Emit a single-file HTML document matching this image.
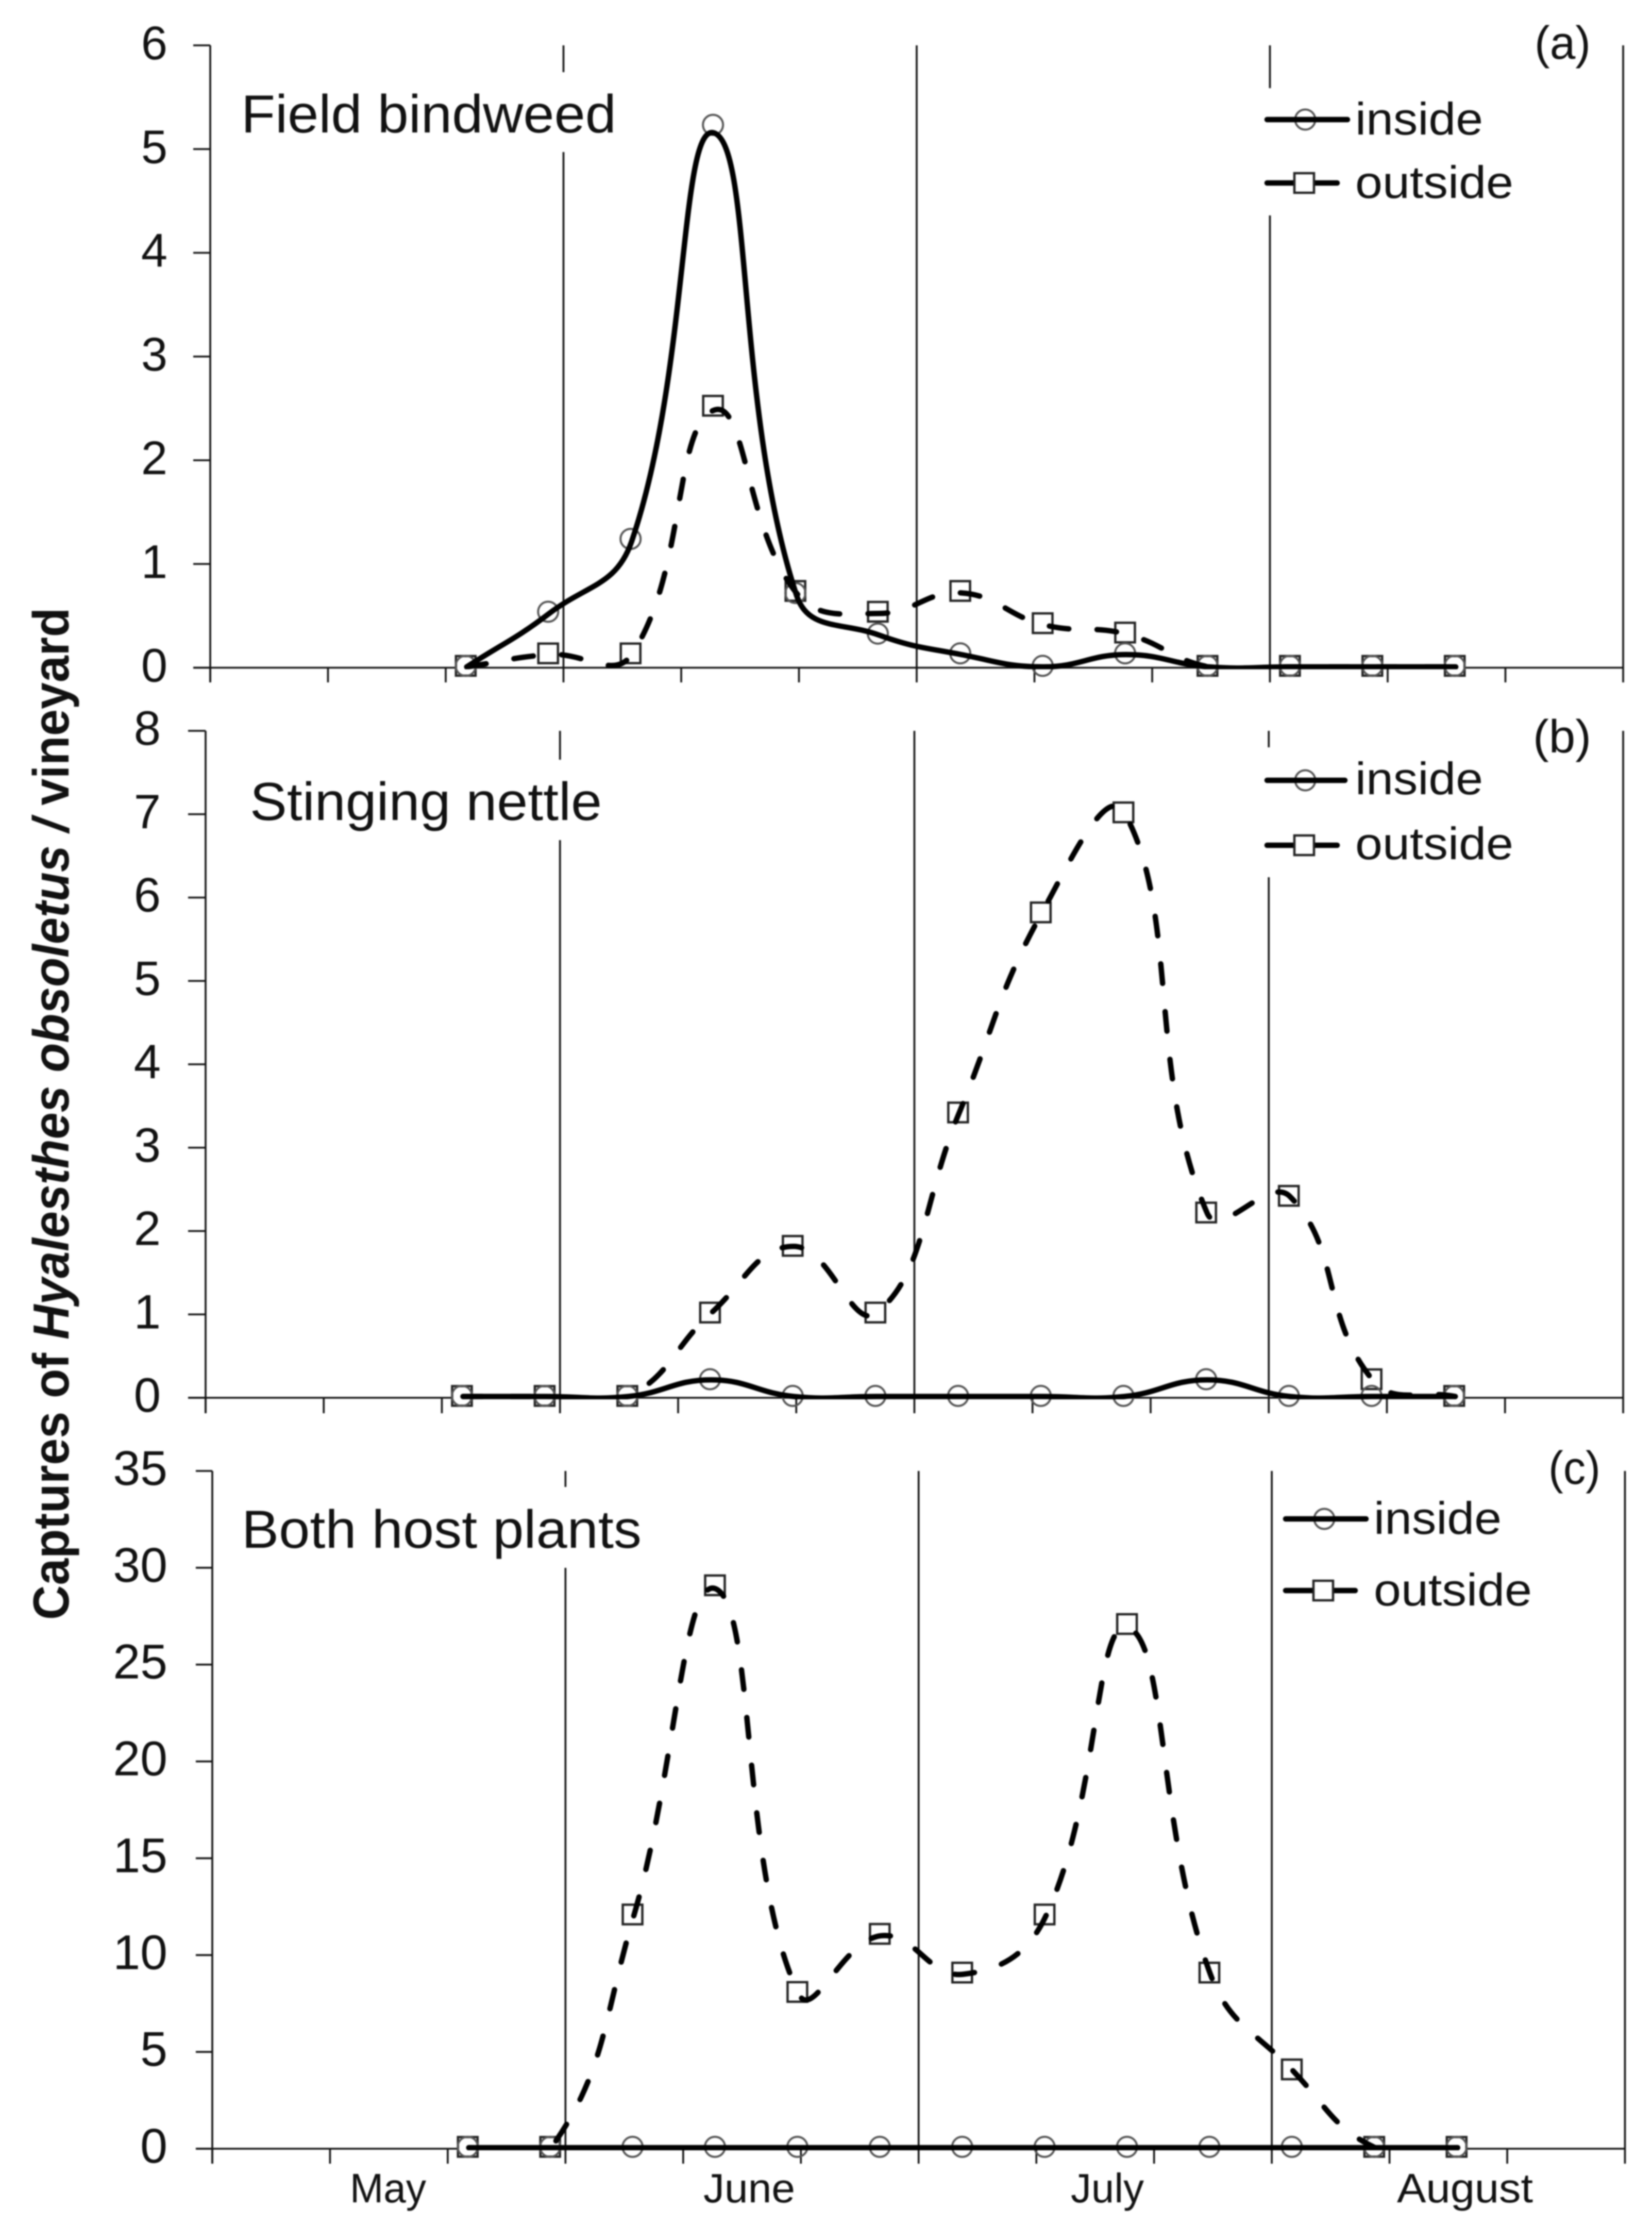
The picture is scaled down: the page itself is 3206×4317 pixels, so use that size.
<!DOCTYPE html>
<html lang="en">
<head>
<meta charset="utf-8">
<title>Captures of Hyalesthes obsoletus per vineyard</title>
<style>
html,body{margin:0;padding:0;background:#fff;}
svg{display:block;filter:blur(1.3px);}
text{font-family:"Liberation Sans",sans-serif;fill:#111;}
</style>
</head>
<body>
<svg id="figure" xmlns="http://www.w3.org/2000/svg" width="3206" height="4317" viewBox="0 0 3206 4317">
<rect x="0" y="0" width="3206" height="4317" fill="#fff"/>
<g id="panels"></g>

<text transform="translate(133,3143) rotate(-90)" font-size="98" font-weight="bold" textLength="1964" lengthAdjust="spacingAndGlyphs">Captures of <tspan font-style="italic">Hyalesthes obsoletus</tspan> <tspan font-style="italic">/</tspan> vineyard</text>

<text x="468" y="257" font-size="104" textLength="728" lengthAdjust="spacingAndGlyphs">Field bindweed</text>
<text x="485" y="1591" font-size="104" textLength="683" lengthAdjust="spacingAndGlyphs">Stinging nettle</text>
<text x="469" y="3003" font-size="104" textLength="776" lengthAdjust="spacingAndGlyphs">Both host plants</text>

<text x="2978" y="114" font-size="90" textLength="109" lengthAdjust="spacingAndGlyphs">(a)</text>
<text x="2975" y="1460" font-size="90" textLength="113" lengthAdjust="spacingAndGlyphs">(b)</text>
<text x="3005" y="2879" font-size="90" textLength="101" lengthAdjust="spacingAndGlyphs">(c)</text>

<g>
  <g>
    <circle cx="2533" cy="232" r="19.5" fill="none" stroke="#555" stroke-width="4"/>
    <line x1="2459" y1="232" x2="2615" y2="232" stroke="#000" stroke-width="10.5" stroke-linecap="round"/>
    <text x="2630" y="261" font-size="88" textLength="248" lengthAdjust="spacingAndGlyphs">inside</text>
  </g>
  <g>
    <line x1="2459" y1="355" x2="2512" y2="355" stroke="#000" stroke-width="10.5" stroke-linecap="round"/>
    <line x1="2550" y1="355" x2="2595" y2="355" stroke="#000" stroke-width="10.5" stroke-linecap="round"/>
    <rect x="2512" y="336" width="38" height="38" fill="#fff" stroke="#222" stroke-width="4.5"/>
    <text x="2630" y="384" font-size="88" textLength="307" lengthAdjust="spacingAndGlyphs">outside</text>
  </g>
</g>

<g>
  <g>
    <circle cx="2533" cy="1514" r="19.5" fill="none" stroke="#555" stroke-width="4"/>
    <line x1="2459" y1="1514" x2="2610" y2="1514" stroke="#000" stroke-width="10.5" stroke-linecap="round"/>
    <text x="2630" y="1541" font-size="88" textLength="248" lengthAdjust="spacingAndGlyphs">inside</text>
  </g>
  <g>
    <line x1="2459" y1="1640" x2="2512" y2="1640" stroke="#000" stroke-width="10.5" stroke-linecap="round"/>
    <line x1="2550" y1="1640" x2="2595" y2="1640" stroke="#000" stroke-width="10.5" stroke-linecap="round"/>
    <rect x="2512" y="1621" width="38" height="38" fill="#fff" stroke="#222" stroke-width="4.5"/>
    <text x="2630" y="1667" font-size="88" textLength="307" lengthAdjust="spacingAndGlyphs">outside</text>
  </g>
</g>

<g>
  <g>
    <circle cx="2570" cy="2947" r="19.5" fill="none" stroke="#555" stroke-width="4"/>
    <line x1="2495" y1="2947" x2="2651" y2="2947" stroke="#000" stroke-width="10.5" stroke-linecap="round"/>
    <text x="2666" y="2976" font-size="88" textLength="248" lengthAdjust="spacingAndGlyphs">inside</text>
  </g>
  <g>
    <line x1="2495" y1="3086" x2="2549" y2="3086" stroke="#000" stroke-width="10.5" stroke-linecap="round"/>
    <line x1="2587" y1="3086" x2="2630" y2="3086" stroke="#000" stroke-width="10.5" stroke-linecap="round"/>
    <rect x="2549" y="3067" width="38" height="38" fill="#fff" stroke="#222" stroke-width="4.5"/>
    <text x="2666" y="3115" font-size="88" textLength="307" lengthAdjust="spacingAndGlyphs">outside</text>
  </g>
</g>

<text x="679" y="4273" font-size="80" textLength="148" lengthAdjust="spacingAndGlyphs">May</text>
<text x="1365" y="4273" font-size="80" textLength="178" lengthAdjust="spacingAndGlyphs">June</text>
<text x="2078" y="4273" font-size="80" textLength="142" lengthAdjust="spacingAndGlyphs">July</text>
<text x="2711" y="4273" font-size="80" textLength="264" lengthAdjust="spacingAndGlyphs">August</text>
</svg>

<script>
// Sampling dates, in days after 1 May
const sampleDays = [21.7, 28.7, 35.7, 42.7, 49.7, 56.7, 63.7, 70.7, 77.7, 84.7, 91.7, 98.7, 105.7];
// X axis ticks and month boundaries, in days
const xTickDays = [0, 10, 20, 30, 40, 50, 60, 70, 80, 90, 100, 110, 120];
const monthBoundaryDays = [30, 60, 90];

// Panel (a) Field bindweed
const bindweedTicks = [0, 1, 2, 3, 4, 5, 6];
const bindweedInside = [0, 0.52, 1.22, 5.2, 0.7, 0.31, 0.12, 0, 0.12, 0, 0, 0, 0];
const bindweedOutside = [0, 0.12, 0.12, 2.5, 0.72, 0.52, 0.72, 0.41, 0.32, 0, 0, 0, 0];

// Panel (b) Stinging nettle
const nettleTicks = [0, 1, 2, 3, 4, 5, 6, 7, 8];
const nettleInside = [0, 0, 0, 0.2, 0, 0, 0, 0, 0, 0.2, 0, 0, 0];
const nettleOutside = [0, 0, 0, 1, 1.8, 1, 3.4, 5.8, 7, 2.2, 2.4, 0.2, 0];

// Panel (c) Both host plants
const bothTicks = [0, 5, 10, 15, 20, 25, 30, 35];
const bothInside = [0, 0, 0, 0, 0, 0, 0, 0, 0, 0, 0, 0, 0];
const bothOutside = [0, 0, 12, 29, 8, 11, 9, 12, 27, 9, 4, 0, 0];

const NS = 'http://www.w3.org/2000/svg';
const root = document.getElementById('panels');

function make(tag, attrs, parent) {
  const node = document.createElementNS(NS, tag);
  for (const key in attrs) node.setAttribute(key, attrs[key]);
  parent.appendChild(node);
  return node;
}

// Chord-length weighted smoothing, as spreadsheet smoothed lines do
function smoothPath(pts) {
  const k = 0.44;
  const dist = (a, b) => Math.hypot(b[0] - a[0], b[1] - a[1]);
  const handle = (i) => {
    const prev = pts[Math.max(i - 1, 0)];
    const next = pts[Math.min(i + 1, pts.length - 1)];
    const dPrev = dist(prev, pts[i]);
    const dNext = dist(pts[i], next);
    const sum = (dPrev + dNext) || 1;
    const tx = next[0] - prev[0];
    const ty = next[1] - prev[1];
    return {
      before: [pts[i][0] - tx * (dPrev / sum) * k, pts[i][1] - ty * (dPrev / sum) * k],
      after: [pts[i][0] + tx * (dNext / sum) * k, pts[i][1] + ty * (dNext / sum) * k]
    };
  };
  let d = 'M' + pts[0][0].toFixed(1) + ' ' + pts[0][1].toFixed(1);
  for (let i = 0; i < pts.length - 1; i++) {
    const c1 = handle(i).after;
    const c2 = handle(i + 1).before;
    const p2 = pts[i + 1];
    d += 'C' + c1[0].toFixed(1) + ' ' + c1[1].toFixed(1) + ' ' + c2[0].toFixed(1) + ' ' + c2[1].toFixed(1) + ' ' + p2[0].toFixed(1) + ' ' + p2[1].toFixed(1);
  }
  return d;
}

function drawPanel(cfg, yTicks, inside, outside) {
  const xMaxDay = xTickDays[xTickDays.length - 1];
  const yMax = yTicks[yTicks.length - 1];
  const xScale = day => cfg.left + (day / xMaxDay) * (cfg.right - cfg.left);
  const yScale = v => cfg.bottom - (v / yMax) * (cfg.bottom - cfg.top);
  const markerY = v => yScale(v * cfg.markerK) + cfg.markerDy;
  const lineY = v => yScale(v * cfg.lineK) + cfg.lineDy;

  const panel = make('g', {}, root);
  
  

  const defs = make('defs', {}, panel);
  const clip = make('clipPath', { id: 'clip-' + cfg.id }, defs);
  make('rect', { x: cfg.left, y: cfg.top, width: cfg.right - cfg.left, height: cfg.bottom - cfg.top + 3 }, clip);

  const axisStyle = { stroke: '#111', 'stroke-width': 3.6, fill: 'none' };

  const yAxis = make('line', Object.assign({ x1: cfg.left, y1: cfg.top, x2: cfg.left, y2: cfg.tickBottom }, axisStyle), panel);
  
  

  const xAxis = make('line', Object.assign({ x1: cfg.tickLeft, y1: cfg.bottom, x2: cfg.right, y2: cfg.bottom }, axisStyle), panel);
  
  

  yTicks.forEach(v => {
    const tick = make('line', Object.assign({ x1: cfg.tickLeft, y1: yScale(v), x2: cfg.left, y2: yScale(v) }, axisStyle), panel);
    
    
    const label = make('text', { x: cfg.labelRight, y: yScale(v) + 27, 'font-size': cfg.fontSize, 'text-anchor': 'end' }, panel);
    label.textContent = String(v);
    
    
  });

  xTickDays.forEach(day => {
    const isLong = monthBoundaryDays.includes(day) || day === xMaxDay;
    if (isLong) return;
    const tick = make('line', Object.assign({ x1: xScale(day), y1: cfg.bottom, x2: xScale(day), y2: cfg.tickBottom }, axisStyle), panel);
    
    
  });

  monthBoundaryDays.concat([xMaxDay]).forEach(day => {
    const line = make('line', Object.assign({ x1: xScale(day), y1: cfg.top, x2: xScale(day), y2: cfg.tickBottom }, axisStyle), panel);
    
    
  });

  cfg.gaps.forEach(gap => {
    const mask = make('rect', { x: xScale(gap[0]) - 5, y: gap[1], width: 10, height: gap[2] - gap[1], fill: '#fff' }, panel);
    
    
  });

  // markers first: the lines sit on top of them in the original
  outside.forEach((v, i) => {
    const half = 19;
    const sq = make('rect', { x: xScale(sampleDays[i]) - half, y: markerY(v) - half, width: half * 2, height: half * 2, fill: '#fff', stroke: '#222', 'stroke-width': 4.5 }, panel);
    
    
  });
  inside.forEach((v, i) => {
    const c = make('circle', { cx: xScale(sampleDays[i]), cy: markerY(v), r: 19.5, fill: 'none', stroke: '#555', 'stroke-width': 4 }, panel);
    
    
  });

  const outPts = outside.map((v, i) => [xScale(sampleDays[i]) + 2, lineY(v)]);
  const outLine = make('path', { d: smoothPath(outPts), fill: 'none', stroke: '#000', 'stroke-width': 10.5, 'stroke-linecap': 'round', 'stroke-dasharray': '38 55', 'clip-path': 'url(#clip-' + cfg.id + ')' }, panel);
  
  

  const inPts = inside.map((v, i) => [xScale(sampleDays[i]) + 2, lineY(v)]);
  const inLine = make('path', { d: smoothPath(inPts), fill: 'none', stroke: '#000', 'stroke-width': 10.5, 'stroke-linecap': 'round', 'clip-path': 'url(#clip-' + cfg.id + ')' }, panel);
  
  
}

drawPanel({ id: 'a', left: 408, right: 3150, top: 88, bottom: 1295.5, tickLeft: 375, tickBottom: 1324, labelRight: 325, fontSize: 92, markerDy: -3.6, lineDy: -1.6, markerK: 1.003, lineK: 0.99,
  gaps: [[30, 140, 295], [90, 171, 418]] }, bindweedTicks, bindweedInside, bindweedOutside);

drawPanel({ id: 'b', left: 399, right: 3150, top: 1418, bottom: 2712, tickLeft: 365, tickBottom: 2742, labelRight: 312, fontSize: 94, markerDy: -3.6, lineDy: -2.5, markerK: 1, lineK: 1,
  gaps: [[30, 1474, 1630], [90, 1450, 1702]] }, nettleTicks, nettleInside, nettleOutside);

drawPanel({ id: 'c', left: 412, right: 3153.5, top: 2854, bottom: 4169, tickLeft: 380, tickBottom: 4198, labelRight: 325, fontSize: 95, markerDy: -3.6, lineDy: -2, markerK: 1, lineK: 0.995,
  gaps: [[30, 2885, 3042]] }, bothTicks, bothInside, bothOutside);
</script>
</body>
</html>
